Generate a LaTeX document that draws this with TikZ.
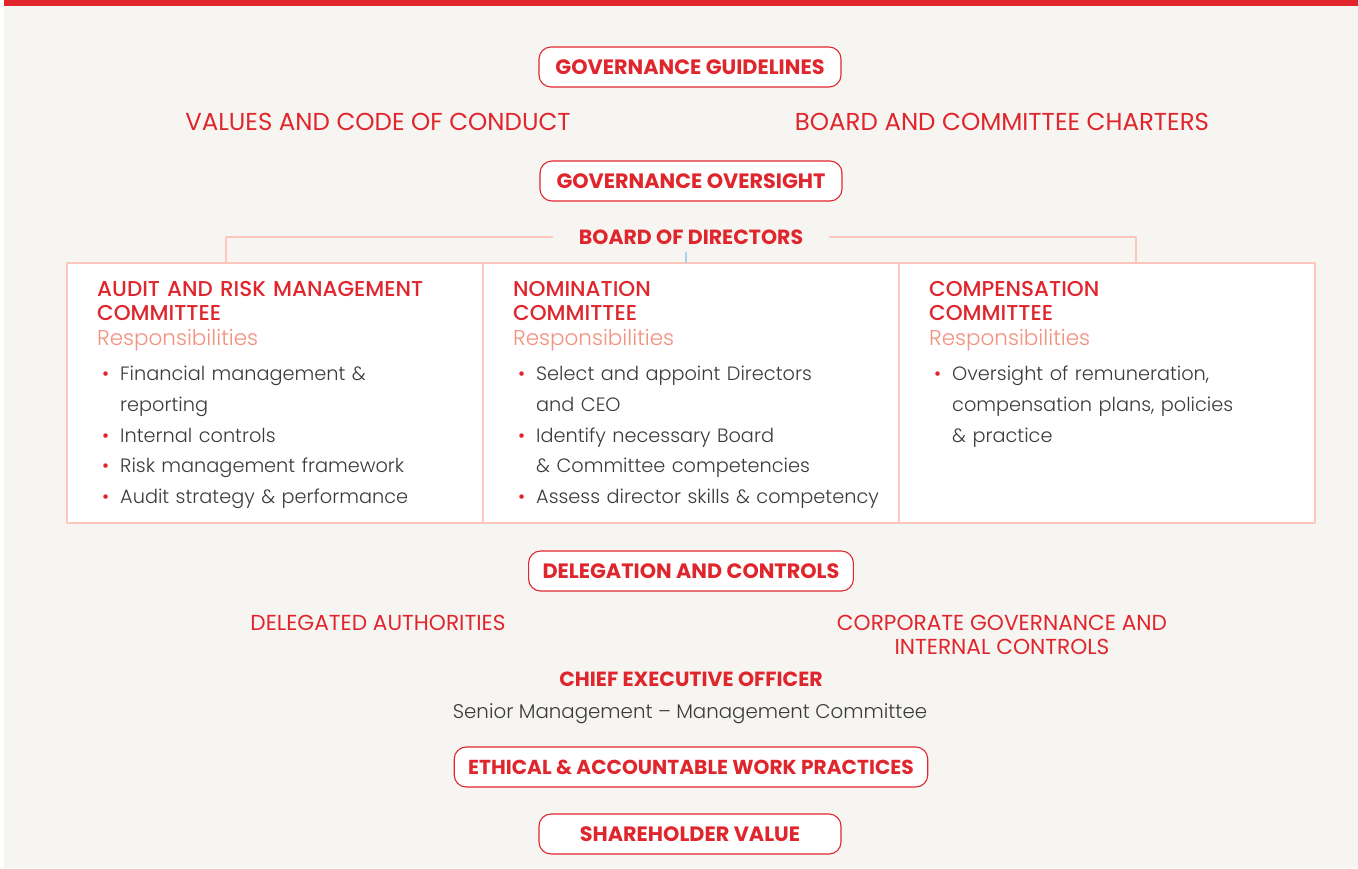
\documentclass[tikz,border=0pt]{standalone}
\usepackage{fontspec}
\setmainfont{Poppins}
\newfontfamily\lightfont[Ligatures=TeX]{Poppins Light}
\newfontfamily\medfont{Poppins Medium}
\usetikzlibrary{positioning}
\definecolor{cred}{HTML}{E0262D}
\definecolor{csalmon}{HTML}{FFC6BC}
\definecolor{cresp}{HTML}{F4907E}
\definecolor{cgray}{HTML}{3B3B3B}
\definecolor{cbg}{HTML}{F7F5F2}
\definecolor{ctick}{HTML}{A9D3EA}
% one bullet line of a committee list
\newcommand\itm[1]{\hangindent=23pt\hangafter=1\noindent\makebox[23pt][l]{\hspace{5pt}\textcolor{cred}{\textbullet}}#1\par}
\begin{document}
\begin{tikzpicture}[x=1pt,y=-1pt,line join=round,
	pill/.style={draw=cred,line width=1.1pt,fill=white,rounded corners=12pt,minimum width=302pt,minimum height=40pt,inner xsep=14pt,text=cred,font=\fontsize{20.8}{22}\selectfont\bfseries},
	head/.style={text=cred,font=\fontsize{24.5}{24}\selectfont,align=center},
	lhead/.style={text=cred,font=\fontsize{21.7}{24}\selectfont,align=center},
	bhead/.style={text=cred,font=\fontsize{20.5}{22}\selectfont\bfseries},
	ctitle/.style={anchor=north west,inner sep=0pt,text width=380pt,font=\fontsize{21.5}{24.5}\selectfont},
	clist/.style={anchor=north west,inner sep=0pt,text width=380pt,text=cgray,font=\lightfont\fontsize{19.3}{30.7}\selectfont},
	frame/.style={draw=csalmon,line width=1.6pt}]
	\useasboundingbox (0,0) rectangle (1358,868);
	\fill[white] (0,0) rectangle (1358,868);
	\fill[cbg] (4,6) rectangle (1358,868);
	\fill[cred] (4,0) rectangle (1358,6);
	% guidelines
	\node[pill] (guide) at (690,67) {GOVERNANCE GUIDELINES};
	\node[head] (values) at (378,122) {VALUES AND CODE OF CONDUCT};
	\node[head] (charter) at (1002,122) {BOARD AND COMMITTEE CHARTERS};
	% oversight
	\node[pill] (over) at (691,181) {GOVERNANCE OVERSIGHT};
	\node[bhead,minimum width=276pt,inner xsep=0pt] (bod) at (691,237) {BOARD OF DIRECTORS};
	\coordinate (arm) at (226,263);
	\coordinate (comp) at (1136,263);
	\draw[frame,fill=white] (67,263) rectangle (1315,523);
	\draw[frame] (483,263)--(483,523) (899,263)--(899,523);
	\draw[frame] (bod.west) -| (arm);
	\draw[frame] (bod.east) -| (comp);
	\draw[ctick,line width=1.2pt] (686,252)--(686,263);
	\node[ctitle] (t1) at (97,281) {\textcolor{cred}{\medfont AUDIT AND RISK MANAGEMENT\\COMMITTEE}\\\textcolor{cresp}{\lightfont Responsibilities}};
	\node[ctitle] (t2) at (513,281) {\textcolor{cred}{\medfont NOMINATION\\COMMITTEE}\\\textcolor{cresp}{\lightfont Responsibilities}};
	\node[ctitle] (t3) at (929,281) {\textcolor{cred}{\medfont COMPENSATION\\COMMITTEE}\\\textcolor{cresp}{\lightfont Responsibilities}};
	\node[clist] (l1) at (97,366) {\itm{Financial management \&\hfil\break reporting}\itm{Internal controls}\itm{Risk management framework}\itm{Audit strategy \& performance}};
	\node[clist] (l2) at (513,366) {\itm{Select and appoint Directors\hfil\break and CEO}\itm{Identify necessary Board\hfil\break \& Committee competencies}\itm{Assess director skills \& competency}};
	\node[clist] (l3) at (929,366) {\itm{Oversight of remuneration,\hfil\break compensation plans, policies\hfil\break \& practice}};
	% delegation
	\node[pill] (deleg) at (691,571) {DELEGATION AND CONTROLS};
	\node[lhead] (auth) at (378,623) {DELEGATED AUTHORITIES};
	\node[lhead] (corp) at (1002,635) {CORPORATE GOVERNANCE AND\\INTERNAL CONTROLS};
	\node[bhead] (ceo) at (691,679) {CHIEF EXECUTIVE OFFICER};
	\node[text=cgray,font=\lightfont\fontsize{19.8}{24}\selectfont] (senior) at (690,714) {Senior Management – Management Committee};
	\node[pill,font=\fontsize{20.2}{22}\selectfont\bfseries] (ethic) at (691,767) {ETHICAL \& ACCOUNTABLE WORK PRACTICES};
	\node[pill] (share) at (690,834) {SHAREHOLDER VALUE};
\end{tikzpicture}
\end{document}
